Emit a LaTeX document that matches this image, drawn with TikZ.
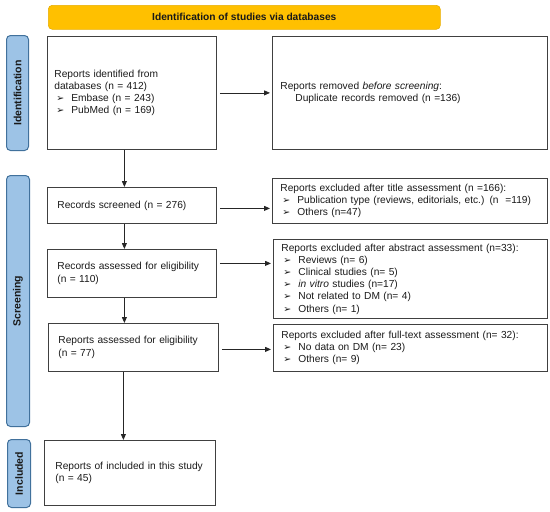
\documentclass[tikz,border=0pt]{standalone}
\usepackage{fontspec}
\setmainfont{Liberation Sans}
\newfontfamily\djv{DejaVu Sans}
\usetikzlibrary{arrows.meta}
\definecolor{gold}{HTML}{FFC000}
\definecolor{goldline}{HTML}{E8AE00}
\definecolor{sideblue}{HTML}{9DC3E6}
\definecolor{sideline}{HTML}{41719C}
\definecolor{txt}{HTML}{1A1A1A}
\newcommand{\bulA}{\hspace*{2pt}\makebox[15pt][l]{\djv\fontsize{9.5}{12}\selectfont ➢}}
\newcommand{\bulB}{\hspace*{2pt}\makebox[15pt][l]{\djv\fontsize{9.5}{12}\selectfont ➢}}
\begin{document}
\begin{tikzpicture}[x=1pt,y=-1pt,
  font=\fontsize{10.2}{12.2}\selectfont,
  box/.style={draw=black!75, line width=0.8pt, anchor=north west, inner ysep=0pt, align=left, text=txt},
  side/.style={draw=sideline, fill=sideblue, line width=1pt, rounded corners=4pt, anchor=north west, inner sep=0pt},
  sidetext/.style={rotate=90, font=\bfseries\fontsize{10.5}{12}\selectfont, text=black!90},
  banner/.style={draw=goldline, fill=gold, line width=0.6pt, rounded corners=4pt, anchor=north west, inner sep=0pt, font=\bfseries\fontsize{10.2}{12}\selectfont, text=black!90},
  arr/.style={-{Triangle[length=6pt,width=5pt]}, line width=0.8pt, black!85}]
\useasboundingbox (0,0) rectangle (550,512);

% banner
\node[banner, minimum width=392, minimum height=24] (ban) at (48,5) {Identification of studies via databases};

% side labels
\node[side, minimum width=22, minimum height=115] (sid) at (6,35) {};
\node[sidetext] (sidt) at (sid.center) {Identification};
\node[side, minimum width=23, minimum height=251] (sscr) at (6,175) {};
\node[sidetext] (sscrt) at (sscr.center) {Screening};
\node[side, minimum width=23, minimum height=68] (sinc) at (7,439) {};
\node[sidetext] (sinct) at (sinc.center) {Included};

% left column
\node[box, minimum width=169, minimum height=113, inner xsep=7pt, text width=155pt] (b1) at (47,36)
  {Reports identified from\\databases (n = 412)\\\bulA Embase (n = 243)\\\bulA PubMed (n = 169)};
\node[box, minimum width=169, minimum height=36, inner xsep=10pt, text width=149pt] (scr) at (47,187)
  {Records screened (n = 276)};
\node[box, minimum width=169, minimum height=48, inner xsep=10pt, text width=149pt] (ass) at (47,249)
  {Records assessed for eligibility\\(n = 110)};
\node[box, minimum width=170, minimum height=48, inner xsep=10pt, text width=150pt] (rep) at (48,323)
  {Reports assessed for eligibility\\(n = 77)};
\node[box, minimum width=171, minimum height=65, inner xsep=11pt, text width=149pt] (inc) at (44,440)
  {Reports of included in this study\\(n = 45)};

% right column
\node[box, minimum width=275, minimum height=113, inner xsep=8pt, text width=259pt] (rem) at (272,36)
  {Reports removed \textit{before screening}:\\\hspace*{15pt}Duplicate records removed (n =136)};
\node[box, minimum width=275, minimum height=45, inner xsep=8pt, text width=259pt] (tit) at (272,178)
  {Reports excluded after title assessment (n =166):\\\bulB Publication type (reviews, editorials, etc.) (n\ \ =119)\\\bulB Others (n=47)};
\node[box, minimum width=274, minimum height=79, inner xsep=8pt, text width=258pt] (abs) at (273,239)
  {Reports excluded after abstract assessment (n=33):\\\bulB Reviews (n= 6)\\\bulB Clinical studies (n= 5)\\\bulB \textit{in vitro} studies (n=17)\\\bulB Not related to DM (n= 4)\\\bulB Others (n= 1)};
\node[box, minimum width=274, minimum height=47, inner xsep=8pt, text width=258pt] (ft) at (273,324)
  {Reports excluded after full-text assessment (n= 32):\\\bulB No data on DM (n= 23)\\\bulB Others (n= 9)};

% vertical arrows
\draw[arr] ([xshift=-7.5pt]b1.south) -- ([xshift=-7.5pt]b1.south |- scr.north);
\draw[arr] ([xshift=-7.5pt]scr.south) -- ([xshift=-7.5pt]scr.south |- ass.north);
\draw[arr] ([xshift=-7.5pt]ass.south) -- ([xshift=-7.5pt]ass.south |- rep.north);
\draw[arr] ([xshift=-10pt]rep.south) -- ([xshift=-10pt]rep.south |- inc.north);

% horizontal arrows
\coordinate (h2) at ([yshift=-3pt]scr.east);
\coordinate (h3) at ([yshift=10pt]ass.east);
\coordinate (h4) at ([yshift=-2pt]rep.east);
\draw[arr, shorten <=3pt, shorten >=2pt] (b1.east) -- (rem.west |- b1.east);
\draw[arr, shorten <=3pt, shorten >=2pt] (h2) -- (tit.west |- h2);
\draw[arr, shorten <=3pt, shorten >=2pt] (h3) -- (abs.west |- h3);
\draw[arr, shorten <=3pt, shorten >=2pt] (h4) -- (ft.west |- h4);
\end{tikzpicture}
\end{document}
